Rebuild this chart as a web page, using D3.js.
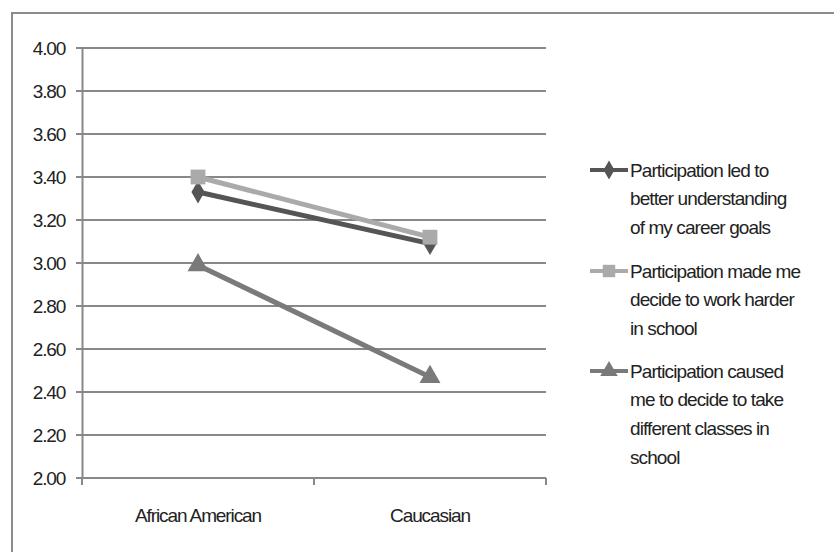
<!DOCTYPE html>
<html><head><meta charset="utf-8">
<script src="https://cdn.jsdelivr.net/npm/d3@7"></script>
<style>body{margin:0;background:#fff}svg{display:block}text{font-family:"Liberation Sans",Arial,sans-serif;fill:#222}</style>
</head><body>
<svg id="c" width="834" height="552"></svg>
<script>
const categories = ["African American", "Caucasian"];
const yTicks = [2.0, 2.2, 2.4, 2.6, 2.8, 3.0, 3.2, 3.4, 3.6, 3.8, 4.0];
const seriesNames = [
  ["Participation led to", "better understanding", "of my career goals"],
  ["Participation made me", "decide to work harder", "in school"],
  ["Participation caused", "me to decide to take", "different classes in", "school"]
];
const careerGoals = [3.33, 3.09];
const workHarder = [3.40, 3.12];
const differentClasses = [2.99, 2.47];
const seriesColors = ["#555555", "#aaaaaa", "#7a7a7a"];
const seriesShapes = ["diamond", "square", "triangle"];

const series = [careerGoals, workHarder, differentClasses].map((v, i) => ({
  name: seriesNames[i], values: v, color: seriesColors[i], shape: seriesShapes[i]
}));

const svg = d3.select("#c");
svg.append("rect").attr("x", 12).attr("y", 13).attr("width", 900).attr("height", 600)
  .attr("fill", "none").attr("stroke", "#8c8c8c").attr("stroke-width", 2);

const x0 = 82, x1 = 546, y0 = 478, y1 = 48;
const x = d3.scaleBand().domain(categories).range([x0, x1]);
const y = d3.scaleLinear().domain([2, 4]).range([y0, y1]);

svg.append("g").selectAll("line").data(yTicks).join("line")
  .attr("x1", x0 - 6).attr("x2", x1)
  .attr("y1", d => y(d)).attr("y2", d => y(d))
  .attr("stroke", "#888").attr("stroke-width", 2);

const yAxis = svg.append("g").attr("transform", `translate(${x0},0)`)
  .call(d3.axisLeft(y).tickValues(yTicks).tickFormat(d3.format(".2f")).tickSize(0).tickPadding(17));
yAxis.select(".domain").attr("stroke", "#888").attr("stroke-width", 2);
yAxis.selectAll("text").attr("font-size", 19).attr("letter-spacing", -1.2)
  .attr("font-family", "Liberation Sans, Arial, sans-serif").attr("fill", "#222");

const xAxis = svg.append("g").attr("transform", `translate(0,${y0})`)
  .call(d3.axisBottom(x).tickSize(0).tickPadding(31));
xAxis.select(".domain").remove();
xAxis.selectAll("text").attr("font-size", 19).attr("letter-spacing", -1.1)
  .attr("font-family", "Liberation Sans, Arial, sans-serif").attr("fill", "#222");
const bounds = [x0, ...categories.map(c => x(c) + x.bandwidth())];
svg.append("g").selectAll("line").data(bounds).join("line")
  .attr("x1", d => d).attr("x2", d => d).attr("y1", y0).attr("y2", y0 + 7)
  .attr("stroke", "#888").attr("stroke-width", 2);

function symbolPath(shape, size) {
  const t = {diamond: d3.symbolDiamond, square: d3.symbolSquare, triangle: d3.symbolTriangle}[shape];
  return d3.symbol().type(t).size(size)();
}
const sizes = {diamond: 150, square: 220, triangle: 190};

const line = d3.line().x((d, i) => x(categories[i]) + x.bandwidth() / 2).y(d => y(d));
series.forEach(s => {
  svg.append("path").attr("d", line(s.values)).attr("fill", "none")
    .attr("stroke", s.color).attr("stroke-width", 5);
  svg.append("g").selectAll("path").data(s.values).join("path")
    .attr("transform", (d, i) => `translate(${x(categories[i]) + x.bandwidth() / 2},${y(d)})`)
    .attr("d", symbolPath(s.shape, sizes[s.shape])).attr("fill", s.color);
});

const legTops = [170, 271, 371];
const lh = 28.7;
series.forEach((s, i) => {
  const g = svg.append("g").attr("transform", `translate(0,${legTops[i]})`);
  g.append("line").attr("x1", 590).attr("x2", 628).attr("y1", 0).attr("y2", 0)
    .attr("stroke", s.color).attr("stroke-width", 4);
  g.append("path").attr("transform", "translate(609,0)")
    .attr("d", symbolPath(s.shape, sizes[s.shape] * 0.7)).attr("fill", s.color);
  s.name.forEach((t, j) => {
    g.append("text").attr("x", 630).attr("y", j * lh).attr("dy", "0.35em")
      .attr("font-size", 19).attr("letter-spacing", -0.9).text(t);
  });
});
</script>
</body></html>
